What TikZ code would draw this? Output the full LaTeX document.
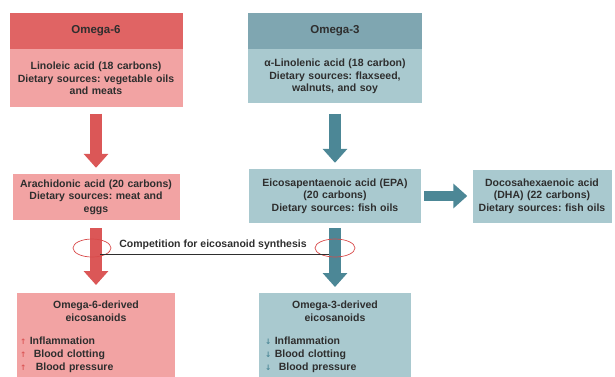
\documentclass[tikz,border=0pt]{standalone}
\usepackage{fontspec}
\setmainfont{Liberation Sans}
\newfontfamily\symfont{DejaVu Sans}
\usetikzlibrary{arrows.meta,shapes.geometric}
\frenchspacing
\definecolor{sixhead}{HTML}{E06464}
\definecolor{sixbody}{HTML}{F2A3A3}
\definecolor{sixarrow}{HTML}{DB5757}
\definecolor{threehead}{HTML}{7FA6B1}
\definecolor{threebody}{HTML}{A9C9CF}
\definecolor{threearrow}{HTML}{4C8796}
\definecolor{ringred}{HTML}{D84A4A}
\definecolor{inktext}{HTML}{2E2E2E}
\newcommand{\upmark}{{\symfont\color{sixarrow}\fontsize{7.5}{7}\selectfont ↑}}
\newcommand{\downmark}{{\symfont\color{threearrow}\fontsize{7.5}{7}\selectfont ↓}}

\begin{document}
\begin{tikzpicture}[
   x=1pt, y=-1pt,
   every node/.style={rectangle, inner sep=0pt, align=center, text=inktext,
                      font=\fontsize{10.5}{12.5}\selectfont\bfseries},
   sixtop/.style={fill=sixhead, font=\fontsize{11.5}{13}\selectfont\bfseries},
   sixbox/.style={fill=sixbody},
   threetop/.style={fill=threehead, font=\fontsize{11.5}{13}\selectfont\bfseries},
   threebox/.style={fill=threebody},
   fatarrow/.style={line width=12pt, -{Triangle[width=24pt,length=14pt]}},
   ring/.style={ellipse, draw=ringred, line width=0.7pt, minimum width=38pt, minimum height=18pt}]

\useasboundingbox (0,0) rectangle (615,376);
\clip (0,0) rectangle (615,376);

% omega-6 column
\node[sixtop, text width=173pt, minimum height=36pt] (o6head) at (96,31) {Omega-6};
\node[sixbox, text width=173pt, minimum height=58pt, anchor=north] (o6body) at (o6head.south)
    {Linoleic acid (18 carbons)\\Dietary sources: vegetable oils\\and meats};
\node[sixbox, text width=167pt, minimum height=46pt] (aa) at (96,197)
    {Arachidonic acid (20 carbons)\\Dietary sources: meat and\\eggs};
\node[sixbox, text width=158pt, inner ysep=8pt, anchor=north,
      font=\fontsize{10.5}{13}\selectfont\bfseries] (o6der) at (96,293)
    {Omega-6-derived\\eicosanoids\par\vspace{10pt}
     {\raggedright\hspace*{3pt}\upmark\ Inflammation\\
      \hspace*{3pt}\upmark\hspace{4pt} Blood clotting\\
      \hspace*{3pt}\upmark\hspace{6pt} Blood pressure\\[20pt]\par}};

% omega-3 column
\node[threetop, text width=174pt, minimum height=36pt] (o3head) at (335,31) {Omega-3};
\node[threebox, text width=174pt, minimum height=54pt, anchor=north] (o3body) at (o3head.south)
    {α-Linolenic acid (18 carbon)\\Dietary sources: flaxseed,\\walnuts, and soy};
\node[threebox, text width=172pt, minimum height=54pt] (epa) at (335,196)
    {Eicosapentaenoic acid (EPA)\\(20 carbons)\\Dietary sources: fish oils};
\node[threebox, text width=139pt, minimum height=53pt] (dha) at (542,196)
    {Docosahexaenoic acid\\(DHA) (22 carbons)\\Dietary sources: fish oils};
\node[threebox, text width=152pt, inner ysep=8pt, anchor=north,
      font=\fontsize{10.5}{13}\selectfont\bfseries] (o3der) at (335,293)
    {Omega-3-derived\\eicosanoids\par\vspace{10pt}
     {\raggedright\hspace*{6pt}\downmark\ Inflammation\\
      \hspace*{6pt}\downmark\ Blood clotting\\
      \hspace*{6pt}\downmark\hspace{4pt} Blood pressure\\[20pt]\par}};

% arrows
\draw[fatarrow, sixarrow, shorten <=6pt, shorten >=6pt] (o6body) -- (aa);
\draw[fatarrow, sixarrow, shorten <=8pt, shorten >=8pt] (aa) -- (o6der);
\draw[fatarrow, threearrow, shorten <=10pt, shorten >=6pt] (o3body) -- (epa);
\draw[fatarrow, threearrow, shorten <=5pt, shorten >=6pt] (epa) -- (o3der);
\draw[fatarrow, threearrow, line width=10pt, shorten <=3pt, shorten >=5pt] (epa) -- (dha);

% competition
\node[ring] (ring6) at (92,248) {};
\node[ring, minimum width=40pt] (ring3) at (335,248) {};
\coordinate (c6) at (100,254);
\coordinate (c3) at (329,254);
\draw[inktext, line width=0.6pt] (c6) -- (c3);
\node (comp) at (213,245) {Competition for eicosanoid synthesis};

\end{tikzpicture}
\end{document}
